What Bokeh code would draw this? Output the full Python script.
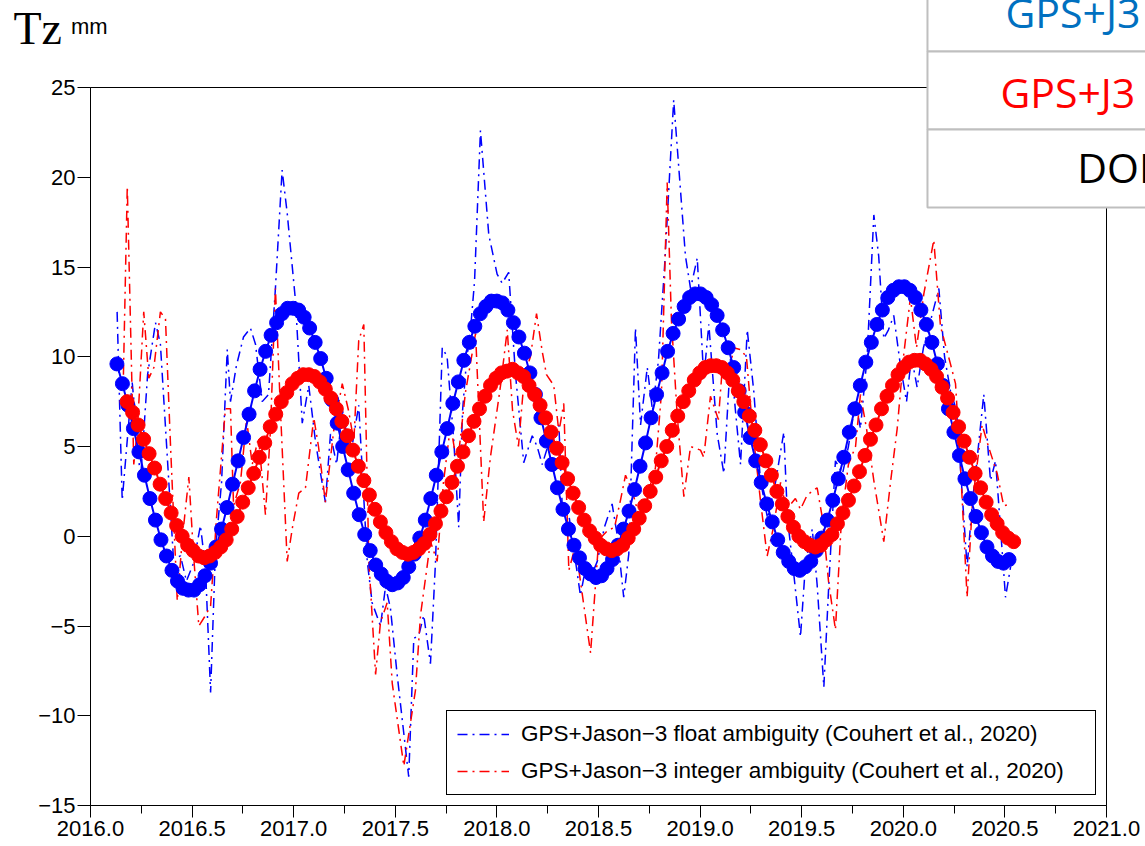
from bokeh.plotting import figure
from bokeh.models import (FixedTicker, PrintfTickFormatter, Legend, LegendItem, Range1d)
from bokeh.core.properties import value
from bokeh.embed import file_html
from bokeh.resources import INLINE

# ---------------- data ----------------
cycle = 0.0271  # Jason-3 cycle in years (sampling of the fitted series)

blue_fit_t0 = 2016.13
blue_fit = [9.6, 8.5, 7.3, 6.0, 4.7, 3.4, 2.1, 0.9, -0.2, -1.1,
            -1.9, -2.5, -2.9, -3.0, -3.0, -2.7, -2.2, -1.5, -0.6, 0.4,
            1.6, 2.9, 4.2, 5.5, 6.8, 8.1, 9.3, 10.3, 11.2, 11.9,
            12.4, 12.7, 12.7, 12.6, 12.2, 11.6, 10.8, 9.9, 8.8, 7.6,
            6.3, 5.0, 3.7, 2.4, 1.2, 0.1, -0.8, -1.6, -2.1, -2.5,
            -2.7, -2.6, -2.3, -1.7, -1.0, -0.1, 0.9, 2.1, 3.4, 4.7,
            6.0, 7.4, 8.6, 9.8, 10.8, 11.7, 12.4, 12.8, 13.1, 13.1,
            13.0, 12.6, 11.9, 11.1, 10.2, 9.1, 7.9, 6.6, 5.3, 4.0,
            2.7, 1.5, 0.4, -0.5, -1.2, -1.8, -2.1, -2.3, -2.2, -1.8,
            -1.3, -0.5, 0.4, 1.4, 2.6, 3.9, 5.2, 6.6, 7.9, 9.1,
            10.3, 11.3, 12.1, 12.8, 13.3, 13.5, 13.5, 13.3, 12.9, 12.3,
            11.5, 10.5, 9.4, 8.1, 6.9, 5.5, 4.2, 3.0, 1.8, 0.8,
            -0.2, -0.9, -1.4, -1.8, -1.9, -1.7, -1.4, -0.8, -0.1, 0.9,
            2.0, 3.2, 4.4, 5.8, 7.1, 8.4, 9.7, 10.8, 11.8, 12.6,
            13.3, 13.7, 13.9, 13.9, 13.7, 13.3, 12.6, 11.8, 10.8, 9.6,
            8.4, 7.1, 5.8, 4.5, 3.2, 2.1, 1.1, 0.2, -0.6, -1.1,
            -1.4, -1.5, -1.3]

red_fit_t0 = 2016.18
red_fit = [7.5, 6.9, 6.2, 5.4, 4.6, 3.8, 2.9, 2.1, 1.3, 0.6,
           0.0, -0.5, -0.8, -1.1, -1.2, -1.1, -0.9, -0.6, -0.2, 0.4,
           1.1, 1.9, 2.7, 3.5, 4.4, 5.2, 6.1, 6.8, 7.5, 8.0,
           8.5, 8.8, 9.0, 9.0, 8.9, 8.6, 8.2, 7.7, 7.1, 6.4,
           5.6, 4.8, 3.9, 3.1, 2.3, 1.5, 0.8, 0.2, -0.3, -0.7,
           -0.9, -1.0, -0.9, -0.7, -0.4, 0.1, 0.7, 1.4, 2.2, 3.0,
           3.9, 4.7, 5.6, 6.4, 7.1, 7.8, 8.4, 8.8, 9.1, 9.2,
           9.3, 9.1, 8.9, 8.4, 7.9, 7.3, 6.6, 5.8, 4.9, 4.1,
           3.2, 2.4, 1.6, 0.9, 0.3, -0.1, -0.5, -0.7, -0.8, -0.7,
           -0.5, -0.1, 0.4, 1.0, 1.7, 2.5, 3.3, 4.2, 5.0, 5.9,
           6.7, 7.5, 8.1, 8.7, 9.1, 9.4, 9.5, 9.5, 9.4, 9.1,
           8.7, 8.1, 7.5, 6.7, 5.9, 5.1, 4.2, 3.4, 2.5, 1.8,
           1.1, 0.5, 0.0, -0.3, -0.5, -0.6, -0.5, -0.2, 0.1, 0.7,
           1.3, 2.0, 2.8, 3.6, 4.5, 5.4, 6.2, 7.1, 7.8, 8.4,
           9.0, 9.4, 9.7, 9.8, 9.8, 9.6, 9.3, 8.9, 8.3, 7.7,
           6.9, 6.1, 5.3, 4.4, 3.5, 2.7, 1.9, 1.2, 0.7, 0.2,
           -0.1, -0.3]

float_t = [2016.131, 2016.156, 2016.205, 2016.226, 2016.246, 2016.281, 2016.320, 2016.344, 2016.377, 2016.408,
           2016.443, 2016.472, 2016.507, 2016.541, 2016.566, 2016.591, 2016.615, 2016.645, 2016.673, 2016.689,
           2016.718, 2016.753, 2016.787, 2016.812, 2016.845, 2016.876, 2016.910, 2016.943, 2016.968, 2017.009,
           2017.042, 2017.074, 2017.107, 2017.132, 2017.156, 2017.181, 2017.211, 2017.240, 2017.280, 2017.320,
           2017.362, 2017.386, 2017.427, 2017.452, 2017.476, 2017.509, 2017.566, 2017.591, 2017.616, 2017.640,
           2017.673, 2017.698, 2017.731, 2017.755, 2017.788, 2017.812, 2017.831, 2017.850, 2017.870, 2017.890,
           2017.919, 2017.960, 2018.001, 2018.026, 2018.058, 2018.091, 2018.132, 2018.174, 2018.198, 2018.223,
           2018.264, 2018.305, 2018.321, 2018.354, 2018.382, 2018.411, 2018.441, 2018.465, 2018.494, 2018.529,
           2018.567, 2018.593, 2018.624, 2018.649, 2018.682, 2018.707, 2018.740, 2018.766, 2018.795, 2018.825,
           2018.870, 2018.928, 2018.953, 2018.986, 2019.018, 2019.043, 2019.084, 2019.117, 2019.150, 2019.174,
           2019.199, 2019.232, 2019.264, 2019.297, 2019.332, 2019.371, 2019.412, 2019.430, 2019.460, 2019.494,
           2019.519, 2019.552, 2019.576, 2019.609, 2019.632, 2019.666, 2019.701, 2019.730, 2019.765, 2019.789,
           2019.822, 2019.855, 2019.879, 2019.904, 2019.927, 2019.953, 2019.986, 2020.016, 2020.040, 2020.068,
           2020.099, 2020.134, 2020.175, 2020.203, 2020.232, 2020.262, 2020.286, 2020.314, 2020.341, 2020.365,
           2020.396, 2020.429, 2020.454, 2020.478, 2020.503, 2020.528]
float_v = [12.5, 2.0, 8.6, 6.0, 3.1, 9.0, 11.9, 10.7, 4.6, -1.2,
           -1.1, -2.5, -1.5, 0.6, -1.8, -8.7, -0.8, 3.0, 10.4, 7.5,
           9.5, 11.1, 11.6, 10.7, 7.5, 7.9, 13.8, 20.4, 18.0, 13.1,
           6.3, 8.4, 5.3, 3.5, 1.9, 5.7, 4.0, 7.0, 4.5, 7.3,
           -1.4, -3.7, -5.0, -2.8, -4.0, -7.7, -13.4, -5.7, -5.5, -4.4,
           -7.1, -1.4, 10.5, 10.0, 5.3, 0.5, 7.0, 9.7, 11.5, 14.2,
           22.6, 16.8, 14.6, 14.1, 14.7, 9.1, 4.1, 5.6, 5.0, 4.0,
           5.5, 6.2, 1.8, 1.2, -1.0, -3.3, -1.5, -2.2, -1.4, 0.5,
           1.8, 0.0, -3.4, -1.0, 11.6, 6.2, 9.4, 7.0, 9.8, 15.0,
           24.3, 15.6, 13.8, 15.5, 8.8, 11.8, 5.7, 3.5, 10.0, 7.0,
           4.0, 11.5, 8.1, 3.1, 1.0, 3.0, 5.8, 1.0, -2.0, -5.6,
           -1.5, 0.4, -2.7, -8.4, -3.0, 4.2, 3.5, 5.0, 7.5, 6.0,
           10.0, 17.9, 15.6, 11.0, 11.5, 12.3, 9.5, 7.5, 10.0, 8.3,
           10.5, 12.0, 13.8, 10.0, 8.1, 7.0, 3.0, -1.7, 2.0, 4.5,
           7.9, 3.1, 4.2, 0.5, -3.4, -1.7]

integer_t = [2016.162, 2016.181, 2016.213, 2016.231, 2016.262, 2016.287, 2016.312, 2016.344, 2016.369, 2016.394,
             2016.427, 2016.453, 2016.484, 2016.507, 2016.533, 2016.561, 2016.591, 2016.620, 2016.664, 2016.689,
             2016.704, 2016.738, 2016.768, 2016.796, 2016.827, 2016.861, 2016.886, 2016.910, 2016.935, 2016.968,
             2016.994, 2017.025, 2017.058, 2017.099, 2017.122, 2017.156, 2017.197, 2017.239, 2017.270, 2017.296,
             2017.320, 2017.345, 2017.370, 2017.403, 2017.427, 2017.460, 2017.485, 2017.542, 2017.599, 2017.624,
             2017.673, 2017.706, 2017.737, 2017.772, 2017.805, 2017.845, 2017.895, 2017.935, 2017.968, 2018.018,
             2018.051, 2018.077, 2018.106, 2018.136, 2018.165, 2018.195, 2018.223, 2018.244, 2018.280, 2018.305,
             2018.329, 2018.354, 2018.387, 2018.411, 2018.461, 2018.501, 2018.543, 2018.579, 2018.608, 2018.633,
             2018.667, 2018.707, 2018.746, 2018.780, 2018.810, 2018.838, 2018.859, 2018.887, 2018.920, 2018.953,
             2019.002, 2019.018, 2019.051, 2019.090, 2019.110, 2019.150, 2019.164, 2019.199, 2019.228, 2019.258,
             2019.297, 2019.330, 2019.361, 2019.396, 2019.425, 2019.469, 2019.494, 2019.527, 2019.576, 2019.602,
             2019.632, 2019.666, 2019.696, 2019.730, 2019.765, 2019.789, 2019.819, 2019.855, 2019.904, 2019.937,
             2019.970, 2020.001, 2020.035, 2020.065, 2020.101, 2020.150, 2020.183, 2020.232, 2020.257, 2020.281,
             2020.314, 2020.341, 2020.388, 2020.419, 2020.462, 2020.494, 2020.528]
integer_v = [9.0, 19.5, 4.0, 6.0, 12.5, 8.8, 9.4, 12.5, 12.1, 5.0,
             -3.6, 0.0, 3.3, -1.0, -5.0, -4.5, -3.9, 1.0, 7.1, 7.1,
             1.7, 3.0, 6.5, 4.0, 5.5, 1.2, 6.0, 13.8, 7.0, -1.4,
             0.5, 2.4, 2.7, 6.6, 5.0, 1.9, 5.9, 8.5, 7.0, 5.3,
             10.9, 11.8, -1.4, -7.7, -4.8, -3.7, -8.2, -12.8, -8.6, -4.4,
             -0.3, -1.4, 3.0, 6.2, 3.9, 8.0, 11.3, 0.8, 4.4, 8.4,
             11.5, 7.0, 5.0, 9.0, 10.0, 12.4, 10.3, 9.0, 8.4, 5.8,
             7.4, -1.9, -0.5, -2.5, -6.5, -0.2, 0.3, 0.5, 2.0, 3.4,
             2.5, 0.8, 2.5, 3.8, 8.0, 19.7, 12.0, 6.8, 2.2, 5.0,
             4.8, 4.4, 7.8, 6.5, 9.5, 9.4, 10.5, 10.4, 10.0, 6.0,
             2.0, -1.1, 0.5, 3.0, 1.5, 2.1, 1.5, 2.3, 2.7, 1.0,
             -2.5, -5.2, 1.0, 4.0, 5.0, 7.9, 6.0, 3.1, -0.3, 3.0,
             6.0, 10.0, 13.3, 10.5, 13.5, 16.5, 11.7, 9.6, 8.5, 4.0,
             -3.4, 2.0, 6.2, 5.0, 3.5, 1.7, 1.8]

x_ticks = [2016.0, 2016.5, 2017.0, 2017.5, 2018.0, 2018.5, 2019.0, 2019.5, 2020.0, 2020.5, 2021.0]
x_minor_ticks = [2016.25, 2016.75, 2017.25, 2017.75, 2018.25, 2018.75, 2019.25, 2019.75, 2020.25, 2020.75]
y_ticks = [-15, -10, -5, 0, 5, 10, 15, 20, 25]

legend_labels = ["GPS+Jason\u22123 float ambiguity (Couhert et al., 2020)",
                 "GPS+Jason\u22123 integer ambiguity (Couhert et al., 2020)"]
table_texts = ["GPS+J3", "GPS+J3", "DOR"]
table_colors = ["#0070C0", "#FF0000", "black"]

blue_fit_t = [round(blue_fit_t0 + cycle * i, 4) for i in range(len(blue_fit))]
red_fit_t = [round(red_fit_t0 + cycle * i, 4) for i in range(len(red_fit))]

# ---------------- figure ----------------
BLUE = "#0000FF"
RED = "#FF0000"

p = figure(width=1145, height=846, x_range=Range1d(2016, 2021), y_range=Range1d(-15, 25),
           output_backend="svg", toolbar_location=None,
           min_border_left=90, min_border_right=39, min_border_top=87, min_border_bottom=41)
p.background_fill_color = "white"
p.border_fill_color = "white"
p.outline_line_color = "black"
p.outline_line_width = 1
p.xgrid.visible = False
p.ygrid.visible = False

for ax in (p.xaxis[0], p.yaxis[0]):
    ax.axis_line_color = "black"
    ax.major_tick_line_color = "black"
    ax.minor_tick_line_color = "black"
    ax.major_label_text_color = "black"
    ax.major_label_text_font = "Liberation Sans"
    ax.major_label_text_font_size = "22px"
    ax.major_tick_in = 0
    ax.minor_tick_in = 0

p.xaxis.ticker = FixedTicker(ticks=x_ticks, minor_ticks=x_minor_ticks)
p.xaxis.formatter = PrintfTickFormatter(format="%.1f")
p.xaxis.major_tick_out = 12
p.xaxis.minor_tick_out = 8
p.xaxis.major_label_standoff = 3

p.yaxis.ticker = FixedTicker(ticks=y_ticks, minor_ticks=[])
p.yaxis.major_label_overrides = {t: ("\u2212" + str(-t) if t < 0 else str(t)) for t in y_ticks}
p.yaxis.major_tick_out = 13
p.yaxis.major_label_standoff = 2

dash = "10 5 2 5"
r_float = p.line(float_t, float_v, line_color=BLUE, line_width=1.5, line_dash=dash)
r_int = p.line(integer_t, integer_v, line_color=RED, line_width=1.5, line_dash=dash)

p.line(blue_fit_t, blue_fit, line_color=BLUE, line_width=2)
p.scatter(blue_fit_t, blue_fit, size=14, fill_color=BLUE, line_color=BLUE)
p.line(red_fit_t, red_fit, line_color=RED, line_width=2)
p.scatter(red_fit_t, red_fit, size=14, fill_color=RED, line_color=RED)

legend = Legend(items=[LegendItem(label=legend_labels[0], renderers=[r_float]),
                       LegendItem(label=legend_labels[1], renderers=[r_int])],
                location="bottom_right", margin=10, padding=10, spacing=11,
                glyph_width=52, glyph_height=20, label_standoff=12,
                label_height=25, label_width=564,
                label_text_font="Liberation Sans", label_text_font_size="22.5px",
                label_text_color="black", border_line_color="black", border_line_width=1,
                border_line_alpha=1, background_fill_color="white", background_fill_alpha=1)
p.add_layout(legend)

# header "Tz mm" (drawn at overlay level so it can sit in the border area)
p.text(x=[2015.621], y=[28.29], text=["Tz"], text_font=value("Liberation Serif"),
       text_font_size=value("46px"), text_color="black", text_baseline="alphabetic",
       level="overlay")
p.text(x=[2015.904], y=[28.40], text=["mm"], text_font=value("Liberation Sans"),
       text_font_size=value("22px"), text_color="black", text_baseline="alphabetic",
       level="overlay")

# overlaid table (top right)
p.quad(left=[2020.119] * 3, right=[2021.463] * 3,
       top=[32.08, 27.01, 22.66], bottom=[27.01, 22.66, 18.31],
       fill_color="white", fill_alpha=1, line_color="#BFBFBF", line_width=2,
       level="overlay")
p.text(x=[2020.503, 2020.478, 2020.856], y=[29.20, 24.75, 20.56], text=table_texts,
       text_color=table_colors, text_font=value("Open Sans"), text_font_size=value("41px"),
       text_baseline="alphabetic", level="overlay")

open("out.html", "w").write(file_html(p, INLINE))
